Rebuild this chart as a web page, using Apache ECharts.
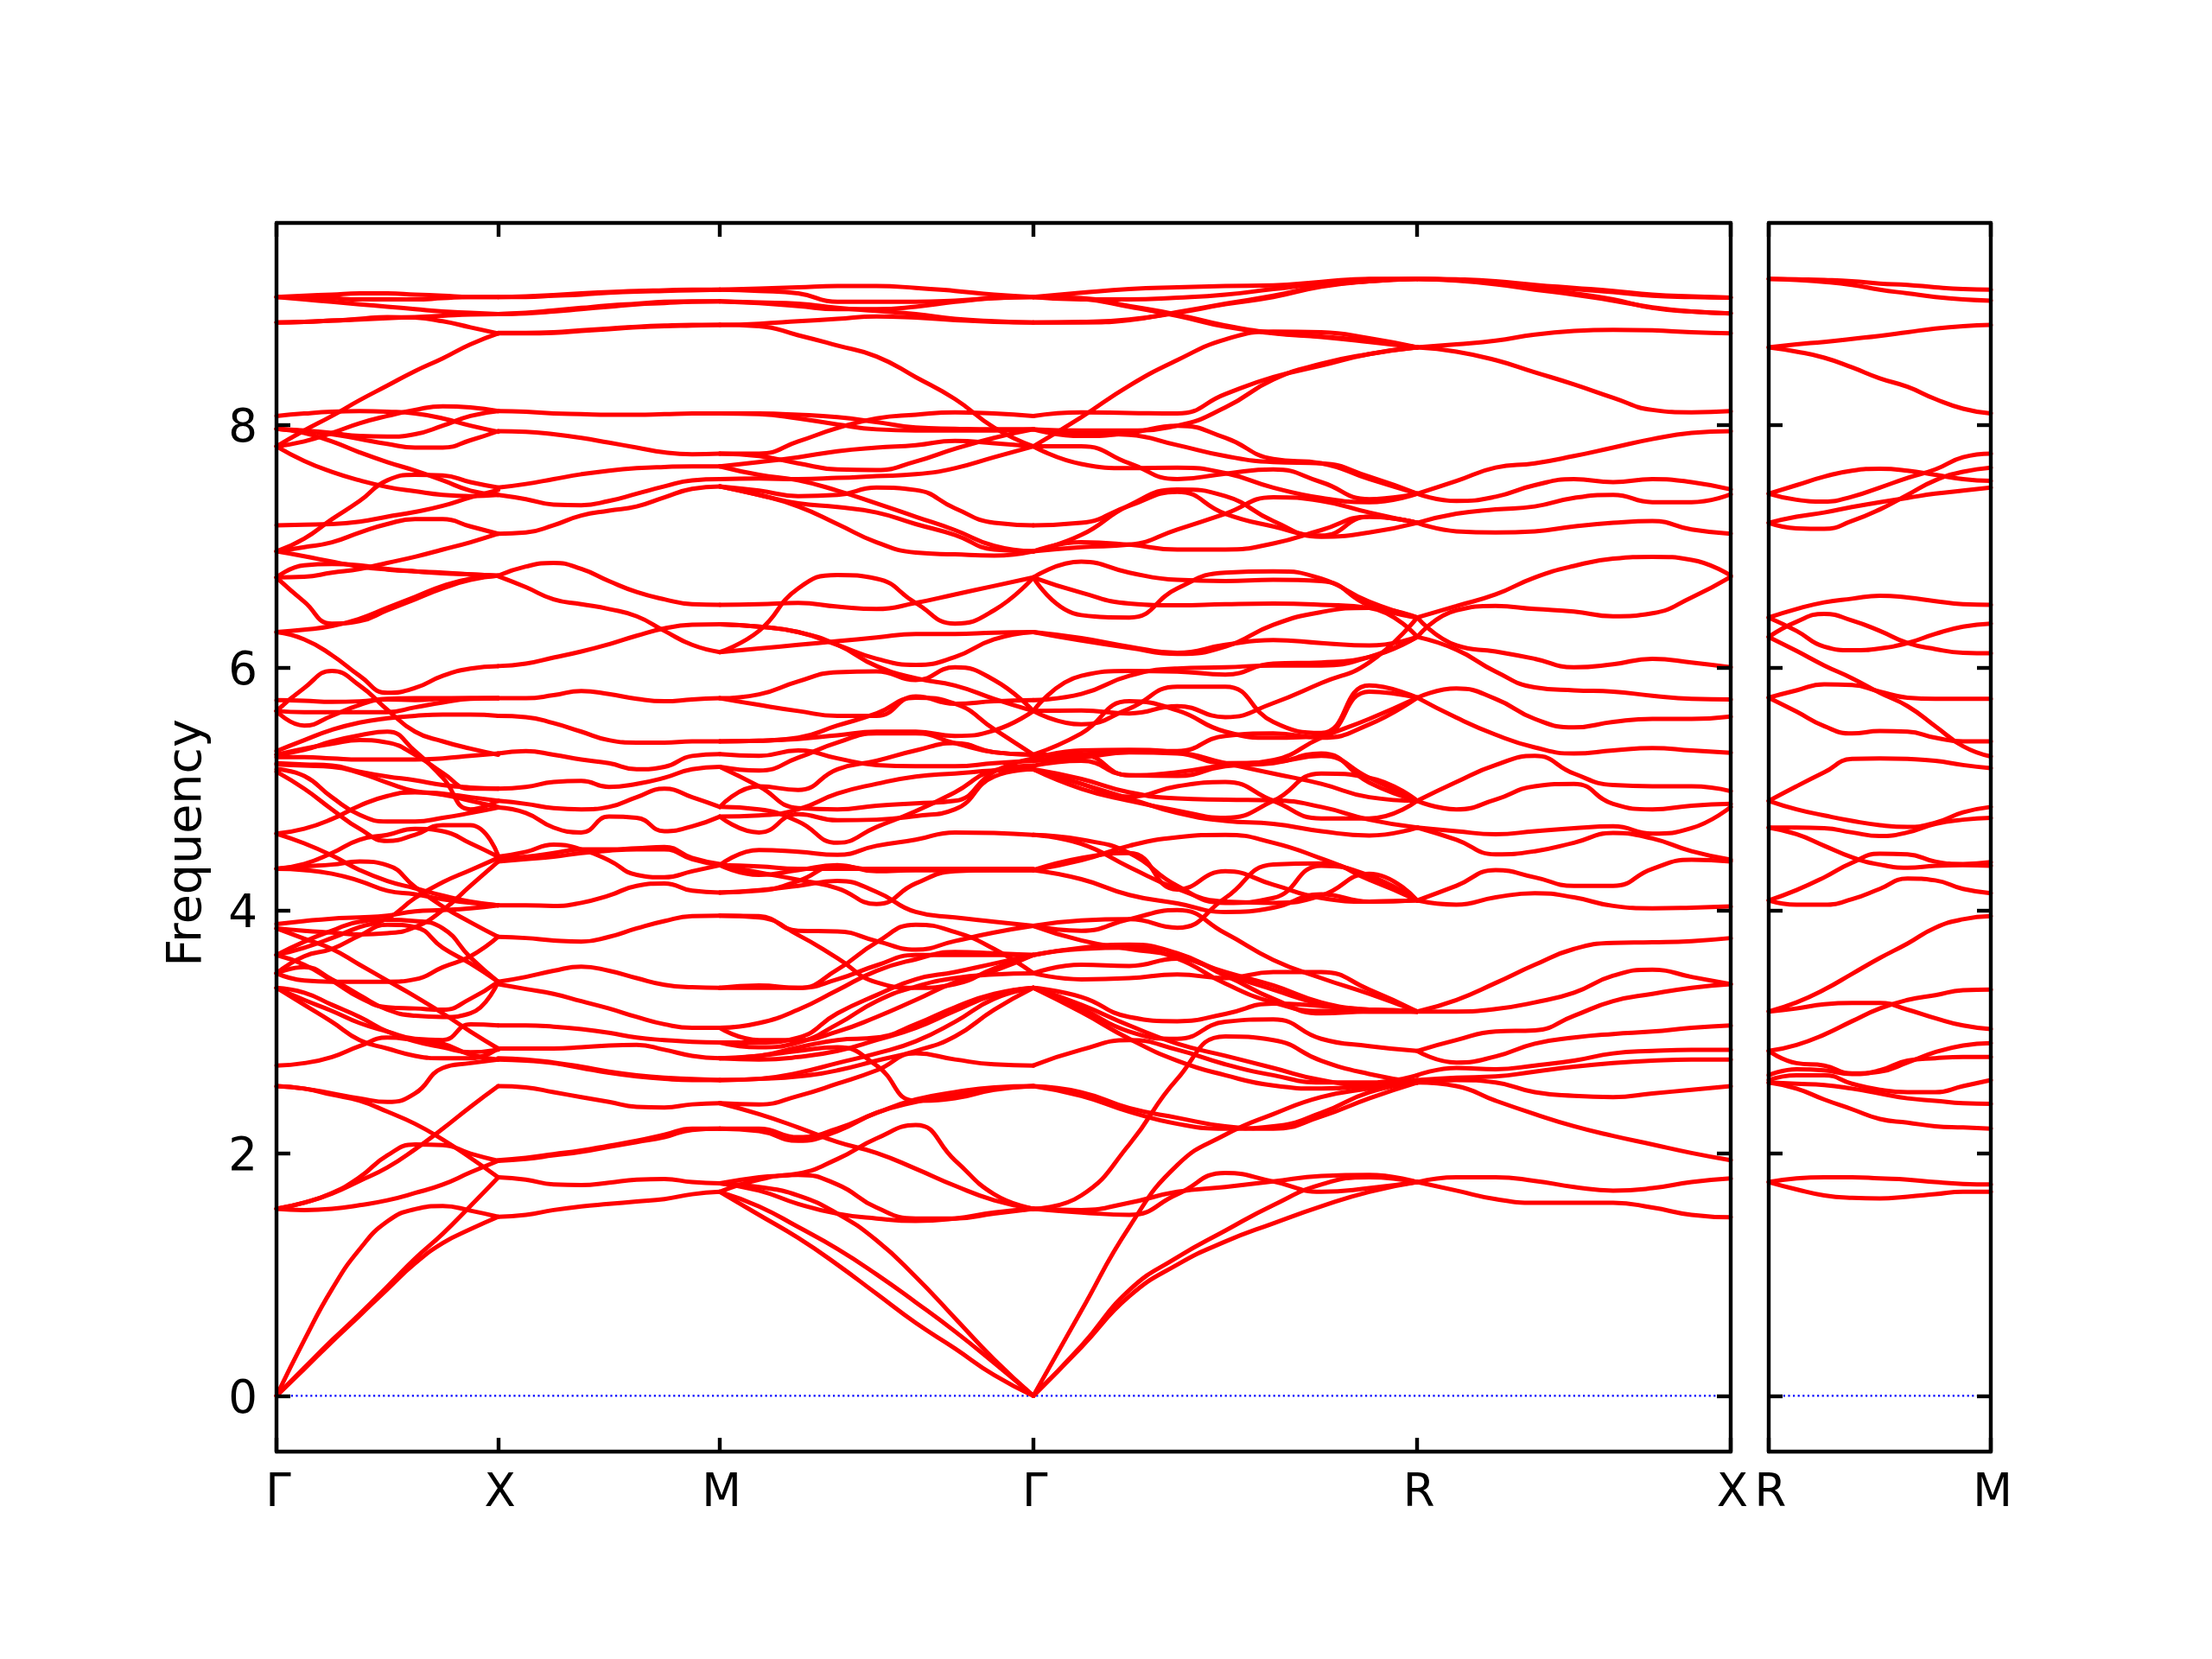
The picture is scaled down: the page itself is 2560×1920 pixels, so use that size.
<!DOCTYPE html>
<html><head><meta charset="utf-8">
<script src="https://cdn.jsdelivr.net/npm/echarts@6/dist/echarts.min.js"></script>
<style>html,body{margin:0;padding:0;background:#fff}#c{width:2560px;height:1920px}</style></head>
<body><div id="c"></div>
<script>
const tickNames=['Γ','X','M','Γ','R','X'];
const tickPos=[0,1,2,3.4142,5.1463,6.5605];
const rightNames=['R','M'];
const rightPos=[0,1];
const yTicks=[0,2,4,6,8];
const gammaX=[
[9.05,9.06,9.07,9.08,9.08,9.07,9.06,9.05,9.05],
[9.05,9.05,9.04,9.03,9.03,9.03,9.04,9.05,9.05],
[9.05,9.03,9.01,8.99,8.97,8.95,8.93,8.92,8.91],
[8.84,8.845,8.855,8.865,8.875,8.885,8.895,8.905,8.91],
[8.84,8.845,8.855,8.87,8.885,8.88,8.85,8.80,8.75],
[7.82,7.95,8.07,8.2,8.32,8.44,8.545,8.66,8.75],
[8.07,8.09,8.105,8.11,8.105,8.09,8.05,7.99,7.94],
[7.82,7.86,7.93,8.01,8.07,8.12,8.15,8.14,8.11],
[7.965,7.95,7.93,7.905,7.90,7.92,7.99,8.07,8.11],
[7.965,7.945,7.92,7.88,7.84,7.81,7.81,7.87,7.945],
[7.965,7.93,7.86,7.77,7.69,7.62,7.54,7.455,7.42],
[7.82,7.70,7.61,7.54,7.485,7.45,7.42,7.41,7.42],
[6.955,7.06,7.22,7.37,7.54,7.585,7.58,7.525,7.48],
[7.17,7.175,7.18,7.2,7.24,7.28,7.33,7.4,7.46],
[6.955,6.99,7.03,7.11,7.18,7.22,7.22,7.16,7.10],
[6.74,6.745,6.78,6.81,6.86,6.91,6.97,7.03,7.10],
[6.955,6.915,6.87,6.83,6.805,6.79,6.78,6.765,6.755],
[6.74,6.84,6.85,6.84,6.81,6.79,6.775,6.765,6.755],
[6.74,6.54,6.36,6.38,6.47,6.56,6.65,6.72,6.755],
[6.29,6.31,6.34,6.40,6.49,6.58,6.67,6.73,6.755],
[6.29,6.23,6.10,5.93,5.79,5.83,5.93,5.99,6.01],
[5.64,5.83,5.97,5.85,5.65,5.47,5.39,5.33,5.28],
[5.73,5.725,5.715,5.72,5.735,5.73,5.74,5.745,5.745],
[5.64,5.63,5.63,5.63,5.63,5.67,5.71,5.74,5.745],
[5.64,5.52,5.60,5.69,5.74,5.745,5.745,5.745,5.745],
[5.31,5.40,5.485,5.545,5.58,5.60,5.61,5.61,5.60],
[5.28,5.32,5.39,5.44,5.47,5.31,5.09,4.83,4.90],
[5.28,5.33,5.37,5.40,5.38,5.28,5.13,5.0,5.0],
[5.26,5.26,5.25,5.24,5.24,5.24,5.25,5.27,5.29],
[5.21,5.20,5.19,5.14,5.1,5.07,5.03,5.01,5.0],
[5.2,5.19,5.18,5.13,5.05,4.98,4.96,4.93,4.90],
[5.16,5.105,4.93,4.785,4.73,4.73,4.76,4.80,4.845],
[5.14,5.0,4.83,4.67,4.57,4.62,4.70,4.70,4.45],
[4.63,4.67,4.75,4.86,4.94,4.97,4.95,4.90,4.85],
[4.63,4.55,4.45,4.33,4.24,4.18,4.12,4.07,4.04],
[4.34,4.36,4.375,4.40,4.37,4.19,4.03,3.9,3.78],
[4.34,4.33,4.30,4.24,4.16,4.13,4.09,4.06,4.04],
[4.34,4.38,4.47,4.58,4.62,4.67,4.65,4.55,4.44],
[3.885,3.91,3.93,3.94,3.955,3.99,4.0,4.015,4.04],
[3.85,3.83,3.815,3.80,3.81,3.86,4.0,4.2,4.40],
[3.63,3.69,3.77,3.86,3.93,4.1,4.23,4.33,4.43],
[3.85,3.765,3.68,3.55,3.42,3.29,3.15,3.0,2.86],
[3.63,3.74,3.83,3.905,3.92,3.91,3.85,3.61,3.41],
[3.48,3.62,3.68,3.79,3.88,3.86,3.69,3.56,3.41],
[3.48,3.42,3.41,3.41,3.41,3.43,3.53,3.62,3.78],
[3.63,3.55,3.42,3.28,3.2,3.19,3.18,3.27,3.41],
[3.48,3.53,3.43,3.30,3.18,3.13,3.12,3.15,3.41],
[3.36,3.26,3.17,3.07,3.0,2.94,2.93,3.06,3.05],
[3.36,3.32,3.22,3.12,3.0,2.92,2.87,2.83,2.85],
[2.72,2.74,2.79,2.88,2.95,2.93,2.90,2.81,2.77],
[3.36,3.22,3.08,2.93,2.86,2.80,2.78,2.78,2.86],
[2.55,2.53,2.49,2.45,2.42,2.49,2.7,2.74,2.77],
[2.55,2.53,2.48,2.43,2.34,2.24,2.11,1.96,1.80],
[1.54,1.59,1.665,1.77,1.88,2.03,2.20,2.38,2.55],
[1.54,1.59,1.67,1.80,1.98,2.07,2.065,1.995,1.935],
[1.54,1.53,1.54,1.57,1.61,1.67,1.74,1.84,1.935],
[0,0.457,0.877,1.207,1.436,1.537,1.563,1.525,1.474],
[0,0.23,0.457,0.673,0.90,1.13,1.334,1.563,1.797],
[0,0.22,0.445,0.66,0.877,1.09,1.258,1.372,1.474]
];
const xM=[
[9.05,9.055,9.065,9.08,9.09,9.10,9.105,9.11,9.11],
[9.05,9.05,9.06,9.07,9.085,9.095,9.10,9.105,9.11],
[8.91,8.92,8.94,8.96,8.98,8.995,9.01,9.015,9.015],
[8.91,8.915,8.93,8.95,8.97,8.99,9.0,9.01,9.015],
[8.75,8.75,8.755,8.77,8.785,8.80,8.81,8.815,8.82],
[8.755,8.755,8.76,8.775,8.79,8.805,8.815,8.82,8.82],
[8.11,8.105,8.09,8.085,8.08,8.08,8.085,8.09,8.09],
[7.945,7.94,7.92,7.89,7.85,7.81,7.77,7.755,7.76],
[7.48,7.51,7.55,7.59,7.62,7.64,7.65,7.655,7.655],
[7.42,7.385,7.34,7.335,7.37,7.43,7.49,7.54,7.55],
[7.10,7.11,7.17,7.25,7.29,7.325,7.40,7.47,7.49],
[6.755,6.83,6.86,6.81,6.71,6.62,6.56,6.52,6.515],
[6.75,6.66,6.56,6.52,6.48,6.42,6.30,6.185,6.125],
[6.01,6.03,6.08,6.13,6.19,6.26,6.32,6.35,6.355],
[5.745,5.745,5.77,5.805,5.78,5.74,5.72,5.735,5.745],
[5.6,5.59,5.54,5.47,5.40,5.38,5.38,5.39,5.39],
[5.29,5.31,5.28,5.24,5.21,5.16,5.18,5.27,5.285],
[5.0,5.015,5.055,5.065,5.015,5.04,5.09,5.16,5.18],
[4.9,4.875,4.84,4.83,4.85,4.93,5.0,4.93,4.85],
[4.845,4.80,4.68,4.64,4.77,4.76,4.65,4.69,4.77],
[4.44,4.48,4.54,4.50,4.41,4.29,4.27,4.32,4.37],
[4.43,4.44,4.47,4.50,4.50,4.51,4.52,4.43,4.38],
[4.40,4.42,4.44,4.47,4.49,4.50,4.50,4.42,4.37],
[4.04,4.04,4.035,4.06,4.12,4.2,4.22,4.16,4.145],
[3.78,3.77,3.75,3.74,3.78,3.85,3.91,3.95,3.955],
[3.41,3.45,3.50,3.535,3.50,3.44,3.385,3.365,3.36],
[3.39,3.35,3.31,3.25,3.19,3.12,3.06,3.03,3.03],
[3.05,3.05,3.04,3.02,2.99,2.95,2.93,2.915,2.91],
[2.86,2.86,2.86,2.87,2.885,2.89,2.85,2.80,2.78],
[2.77,2.76,2.74,2.70,2.66,2.63,2.61,2.60,2.60],
[2.78,2.77,2.745,2.71,2.67,2.64,2.62,2.61,2.60],
[2.55,2.54,2.50,2.46,2.42,2.38,2.375,2.40,2.41],
[1.935,1.95,1.98,2.01,2.05,2.09,2.13,2.19,2.2],
[1.94,1.96,1.99,2.02,2.06,2.10,2.15,2.2,2.2],
[1.80,1.78,1.74,1.735,1.755,1.78,1.785,1.76,1.75],
[1.474,1.49,1.53,1.56,1.58,1.60,1.62,1.66,1.68]
];
const mGamma=[
[9.11,9.12,9.13,9.14,9.14,9.125,9.10,9.07,9.05],
[9.11,9.10,9.08,9.01,9.01,9.01,9.02,9.04,9.05],
[9.015,9.0,8.975,8.95,8.95,8.97,9.01,9.04,9.05],
[9.015,9.005,8.995,8.96,8.935,8.91,8.87,8.85,8.84],
[8.82,8.83,8.85,8.87,8.89,8.88,8.86,8.845,8.84],
[8.82,8.81,8.735,8.65,8.56,8.39,8.21,7.975,7.82],
[8.09,8.09,8.08,8.06,8.02,7.975,7.965,7.96,7.96],
[8.09,8.085,8.05,8.0,7.96,7.95,7.95,7.95,7.96],
[7.76,7.76,7.86,7.97,8.05,8.08,8.10,8.09,8.07],
[7.76,7.74,7.68,7.63,7.625,7.695,7.80,7.89,7.96],
[7.655,7.69,7.73,7.78,7.81,7.83,7.865,7.845,7.82],
[7.655,7.585,7.54,7.455,7.35,7.24,7.13,7.0,6.955],
[7.55,7.555,7.55,7.56,7.575,7.59,7.64,7.73,7.82],
[7.49,7.455,7.41,7.42,7.48,7.46,7.31,7.19,7.17],
[7.49,7.42,7.35,7.32,7.275,7.18,7.09,6.97,6.955],
[7.49,7.42,7.325,7.18,7.03,6.945,6.93,6.92,6.955],
[6.515,6.52,6.53,6.50,6.48,6.53,6.6,6.67,6.74],
[6.125,6.30,6.65,6.76,6.73,6.53,6.36,6.47,6.74],
[6.355,6.335,6.29,6.185,6.01,5.91,5.85,5.74,5.64],
[6.355,6.335,6.29,6.185,6.07,6.02,6.085,6.23,6.29],
[6.125,6.155,6.185,6.215,6.245,6.275,6.275,6.285,6.29],
[5.745,5.777,5.884,5.96,5.967,5.895,6.0,5.895,5.64],
[5.745,5.69,5.64,5.6,5.6,5.76,5.70,5.72,5.73],
[5.39,5.395,5.42,5.52,5.62,5.75,5.70,5.49,5.28],
[5.39,5.395,5.41,5.44,5.47,5.47,5.435,5.48,5.64],
[5.285,5.27,5.315,5.25,5.195,5.185,5.185,5.21,5.23],
[5.18,5.15,5.255,5.38,5.455,5.455,5.375,5.30,5.28],
[5.18,5.02,4.84,4.83,4.86,4.88,4.90,5.14,5.25],
[4.85,5.02,4.99,5.16,5.23,5.315,5.375,5.30,5.28],
[4.77,4.64,4.79,4.74,4.745,4.775,4.83,5.10,5.16],
[4.85,4.83,4.73,4.555,4.685,4.815,4.97,5.15,5.19],
[4.77,4.78,4.83,4.96,5.04,5.1,5.125,5.15,5.16],
[4.37,4.495,4.48,4.455,4.53,4.58,4.64,4.635,4.62],
[4.37,4.29,4.33,4.37,4.32,4.33,4.33,4.33,4.33],
[4.37,4.36,4.34,4.34,4.34,4.34,4.34,4.34,4.34],
[4.145,4.165,4.2,4.24,4.15,3.985,3.94,3.905,3.87],
[4.37,4.31,4.25,4.18,4.05,4.22,4.32,4.33,4.33],
[4.145,4.16,4.24,4.365,4.33,4.33,4.33,4.33,4.33],
[3.955,3.94,3.795,3.605,3.405,3.36,3.39,3.52,3.63],
[3.955,3.95,3.83,3.825,3.745,3.675,3.745,3.815,3.87],
[3.36,3.38,3.36,3.51,3.735,3.88,3.82,3.68,3.48],
[3.36,3.36,3.36,3.43,3.545,3.63,3.63,3.63,3.63],
[3.03,3.07,3.18,3.34,3.5,3.595,3.655,3.645,3.63],
[3.03,2.93,2.93,3.0,3.12,3.26,3.405,3.5,3.63],
[2.91,2.91,2.95,3.15,3.3,3.43,3.49,3.56,3.63],
[2.91,2.87,2.91,3.06,3.25,3.37,3.44,3.47,3.48],
[2.78,2.80,2.87,2.93,2.95,3.06,3.2,3.31,3.36],
[2.78,2.77,2.79,2.84,2.93,3.03,3.17,3.3,3.36],
[2.6,2.61,2.66,2.74,2.82,2.92,3.08,3.27,3.36],
[2.6,2.61,2.63,2.68,2.76,2.84,2.96,3.18,3.36],
[2.41,2.40,2.47,2.57,2.68,2.82,2.77,2.73,2.72],
[2.78,2.80,2.84,2.87,2.72,2.43,2.45,2.52,2.55],
[2.2,2.18,2.1,2.18,2.33,2.42,2.48,2.53,2.55],
[2.2,2.2,2.13,2.2,2.33,2.44,2.5,2.54,2.55],
[2.41,2.32,2.21,2.09,2.0,1.87,1.73,1.61,1.54],
[1.75,1.8,1.83,1.95,2.12,2.23,1.94,1.66,1.54],
[1.75,1.69,1.58,1.5,1.46,1.44,1.46,1.51,1.54],
[1.68,1.78,1.82,1.74,1.55,1.46,1.46,1.5,1.54],
[1.68,1.49,1.3,1.08,0.84,0.6,0.39,0.17,0],
[1.68,1.56,1.39,1.21,1.0,0.77,0.53,0.27,0],
[1.75,1.72,1.65,1.5,1.28,0.98,0.64,0.3,0]
];
const gammaR=[
[9.05,9.085,9.115,9.13,9.14,9.145,9.175,9.2,9.2],
[9.05,9.03,9.03,9.045,9.07,9.115,9.16,9.195,9.2],
[8.84,8.84,8.86,8.925,8.995,9.06,9.14,9.18,9.2],
[8.84,8.845,8.865,8.92,8.99,9.05,9.135,9.18,9.2],
[9.05,9.035,8.97,8.895,8.805,8.75,8.72,8.68,8.635],
[9.05,9.04,8.975,8.905,8.815,8.755,8.725,8.69,8.635],
[7.82,8.06,8.32,8.53,8.70,8.765,8.76,8.71,8.635],
[8.07,8.1,8.095,8.09,8.25,8.39,8.485,8.58,8.635],
[7.96,7.95,7.95,7.99,8.14,8.37,8.5,8.58,8.635],
[7.96,7.905,7.93,7.99,7.89,7.715,7.68,7.55,7.43],
[7.96,7.93,7.915,7.83,7.74,7.69,7.68,7.57,7.43],
[7.82,7.82,7.68,7.55,7.595,7.63,7.525,7.385,7.43],
[7.82,7.675,7.64,7.645,7.6,7.48,7.395,7.36,7.43],
[6.955,7.09,7.335,7.465,7.41,7.205,7.075,7.11,7.19],
[7.17,7.19,7.33,7.445,7.265,7.16,7.085,7.24,7.19],
[6.955,7.03,7.01,6.97,6.97,7.02,7.13,7.24,7.19],
[6.955,6.99,7.01,7.135,7.265,7.4,7.37,7.275,7.19],
[6.74,6.87,6.78,6.72,6.71,6.72,6.71,6.51,6.41],
[6.74,6.615,6.525,6.51,6.52,6.525,6.515,6.49,6.25],
[6.74,6.43,6.41,6.65,6.78,6.79,6.73,6.54,6.41],
[6.29,6.24,6.17,6.12,6.185,6.225,6.2,6.18,6.25],
[6.29,6.22,6.16,6.11,6.17,6.35,6.455,6.49,6.41],
[5.64,5.93,5.97,5.965,5.94,6.03,6.04,6.085,6.25],
[5.73,5.78,5.93,5.99,6.0,6.015,6.015,6.085,6.25],
[5.64,5.53,5.66,5.84,5.84,5.55,5.46,5.85,5.75],
[5.64,5.645,5.62,5.68,5.59,5.705,5.87,6.04,6.41],
[5.28,5.455,5.72,5.645,5.47,5.42,5.435,5.8,5.75],
[5.28,5.28,5.11,5.135,5.195,5.235,5.42,5.575,5.75],
[5.23,5.28,5.31,5.31,5.435,5.455,5.42,5.53,5.75],
[5.23,5.255,5.30,5.29,5.21,5.22,5.27,5.09,4.9],
[5.25,5.315,5.32,5.3,5.21,5.125,5.04,4.93,4.9],
[5.19,5.23,5.11,5.105,5.185,5.21,5.29,5.05,4.9],
[5.16,5.04,4.935,5.02,5.055,4.9,4.755,4.755,4.9],
[5.16,5.08,4.97,4.92,4.91,4.905,4.85,4.745,4.68],
[5.16,5.0,4.9,4.82,4.76,4.9,5.125,5.09,4.9],
[5.16,5.04,4.92,4.8,4.735,4.71,4.65,4.615,4.68],
[4.62,4.545,4.355,4.175,4.07,4.06,4.12,4.3,4.08],
[4.62,4.58,4.47,4.2,4.06,4.1,4.365,4.285,4.08],
[4.33,4.41,4.53,4.6,4.62,4.555,4.425,4.27,4.08],
[4.33,4.255,4.125,4.055,3.985,4.02,4.13,4.07,4.08],
[4.33,4.43,4.47,4.17,4.32,4.21,4.1,4.07,4.08],
[3.87,3.83,3.925,4.0,3.81,3.59,3.44,3.31,3.165],
[3.87,3.915,3.925,3.855,4.1,4.375,4.385,4.25,4.08],
[3.87,3.75,3.68,3.62,3.49,3.38,3.24,3.18,3.165],
[3.63,3.69,3.715,3.645,3.475,3.345,3.225,3.165,3.165],
[3.63,3.68,3.69,3.6,3.395,3.24,3.17,3.18,3.165],
[3.48,3.55,3.54,3.6,3.46,3.27,3.15,3.165,3.165],
[3.48,3.43,3.44,3.47,3.44,3.49,3.49,3.345,3.165],
[3.36,3.285,3.12,3.085,3.145,3.23,3.21,3.18,3.165],
[3.36,3.19,3.0,2.94,3.08,3.1,2.94,2.88,2.84],
[3.36,3.16,2.94,2.76,2.64,2.555,2.53,2.555,2.6],
[3.36,3.22,3.05,2.9,2.8,2.7,2.6,2.56,2.6],
[2.72,2.85,2.93,2.85,2.73,2.64,2.58,2.58,2.64],
[2.55,2.47,2.34,2.24,2.2,2.22,2.33,2.5,2.58],
[2.55,2.5,2.37,2.29,2.22,2.2,2.3,2.45,2.58],
[1.54,1.65,2.07,2.61,2.96,2.93,2.76,2.65,2.58],
[1.54,1.51,1.49,1.66,1.835,1.765,1.68,1.71,1.76],
[1.54,1.53,1.59,1.68,1.72,1.765,1.81,1.82,1.76],
[0,0.70,1.39,1.9,2.15,2.32,2.46,2.53,2.58],
[0,0.41,0.87,1.14,1.36,1.57,1.74,1.8,1.76],
[0,0.4,0.82,1.08,1.27,1.42,1.56,1.68,1.76]
];
const rX=[
[9.2,9.195,9.18,9.15,9.125,9.10,9.07,9.055,9.045],
[9.2,9.19,9.17,9.14,9.115,9.09,9.06,9.05,9.045],
[9.2,9.19,9.16,9.12,9.08,9.03,8.96,8.93,8.915],
[9.2,9.185,9.155,9.11,9.07,9.02,8.965,8.93,8.915],
[8.635,8.66,8.69,8.74,8.77,8.78,8.775,8.76,8.75],
[8.635,8.6,8.53,8.43,8.33,8.22,8.12,8.1,8.11],
[7.43,7.535,7.645,7.68,7.74,7.81,7.88,7.93,7.945],
[7.43,7.37,7.405,7.5,7.55,7.525,7.55,7.525,7.465],
[7.19,7.265,7.3,7.325,7.395,7.42,7.36,7.36,7.425],
[7.19,7.12,7.11,7.12,7.16,7.19,7.205,7.135,7.1],
[6.41,6.505,6.6,6.74,6.835,6.895,6.91,6.885,6.755],
[6.25,6.47,6.505,6.48,6.46,6.42,6.445,6.575,6.745],
[6.25,6.145,5.965,5.835,5.81,5.8,5.765,5.74,5.735],
[6.41,6.18,6.13,6.07,6.0,6.025,6.07,6.04,6.0],
[5.75,5.825,5.74,5.575,5.505,5.55,5.575,5.575,5.595],
[5.75,5.585,5.445,5.34,5.29,5.315,5.335,5.315,5.295],
[4.9,5.055,5.195,5.27,5.125,5.03,5.02,5.02,4.98],
[4.9,4.83,4.91,5.02,5.04,4.875,4.83,4.86,4.875],
[4.68,4.65,4.625,4.65,4.675,4.69,4.63,4.675,4.85],
[4.68,4.58,4.46,4.485,4.555,4.635,4.59,4.485,4.415],
[4.08,4.2,4.33,4.27,4.2,4.2,4.34,4.415,4.4],
[4.08,4.045,4.105,4.14,4.105,4.035,4.015,4.02,4.03],
[3.165,3.26,3.4,3.55,3.68,3.73,3.735,3.745,3.77],
[3.165,3.165,3.185,3.24,3.32,3.46,3.51,3.45,3.39],
[2.84,2.93,3.0,3.01,3.13,3.25,3.31,3.36,3.39],
[2.84,2.745,2.795,2.9,2.95,2.98,3.0,3.03,3.05],
[2.64,2.70,2.69,2.72,2.76,2.82,2.84,2.85,2.85],
[2.6,2.62,2.63,2.67,2.71,2.74,2.76,2.77,2.77],
[2.58,2.6,2.58,2.5,2.47,2.46,2.49,2.52,2.55],
[2.58,2.55,2.43,2.32,2.22,2.14,2.07,2.0,1.94],
[1.76,1.8,1.8,1.77,1.72,1.69,1.71,1.76,1.79],
[1.76,1.69,1.62,1.59,1.59,1.59,1.55,1.49,1.47]
];
const rM=[
[9.2,9.195,9.19,9.18,9.16,9.15,9.13,9.115,9.11],
[9.2,9.19,9.175,9.15,9.11,9.08,9.05,9.03,9.02],
[8.635,8.66,8.68,8.705,8.73,8.76,8.79,8.81,8.82],
[8.635,8.6,8.55,8.47,8.38,8.31,8.21,8.13,8.09],
[7.43,7.5,7.57,7.62,7.635,7.62,7.585,7.55,7.535],
[7.43,7.38,7.365,7.405,7.48,7.56,7.63,7.73,7.76],
[7.19,7.24,7.275,7.32,7.36,7.395,7.43,7.455,7.48],
[7.19,7.145,7.14,7.205,7.3,7.42,7.54,7.61,7.645],
[6.41,6.48,6.535,6.565,6.59,6.575,6.545,6.52,6.515],
[6.41,6.3,6.17,6.14,6.155,6.2,6.275,6.335,6.36],
[6.25,6.375,6.44,6.385,6.3,6.2,6.15,6.12,6.115],
[6.25,6.135,6.015,5.91,5.79,5.68,5.515,5.35,5.265],
[5.75,5.81,5.86,5.855,5.8,5.75,5.74,5.74,5.74],
[5.75,5.635,5.515,5.455,5.475,5.47,5.42,5.39,5.39],
[4.9,5.02,5.135,5.245,5.25,5.245,5.23,5.195,5.17],
[4.9,4.83,4.78,4.735,4.70,4.685,4.72,4.805,4.85],
[4.68,4.68,4.675,4.64,4.61,4.64,4.71,4.745,4.76],
[4.68,4.625,4.53,4.435,4.375,4.35,4.365,4.37,4.365],
[4.08,4.165,4.27,4.39,4.465,4.46,4.4,4.38,4.395],
[4.08,4.045,4.045,4.09,4.175,4.26,4.245,4.175,4.14],
[3.165,3.24,3.345,3.475,3.605,3.725,3.855,3.925,3.95],
[3.165,3.19,3.225,3.235,3.235,3.18,3.11,3.05,3.02],
[2.84,2.89,2.975,3.085,3.19,3.26,3.3,3.34,3.345],
[2.84,2.74,2.72,2.655,2.67,2.745,2.83,2.885,2.905],
[2.64,2.69,2.68,2.65,2.68,2.76,2.78,2.79,2.79],
[2.6,2.64,2.64,2.57,2.52,2.5,2.5,2.55,2.6],
[2.58,2.57,2.56,2.53,2.49,2.45,2.43,2.41,2.405],
[2.58,2.53,2.44,2.36,2.28,2.25,2.22,2.21,2.2],
[1.76,1.79,1.8,1.8,1.79,1.78,1.76,1.745,1.74],
[1.76,1.7,1.65,1.63,1.625,1.64,1.66,1.68,1.68]
];
const yMin=-0.46,yMax=9.66;
const font='"DejaVu Sans"';
const lw=4.4,curveW=5,fs=53;
const chart=echarts.init(document.getElementById('c'),null,{renderer:'canvas',width:2560,height:1920});
function along(vals,x0,x1){return vals.map((v,i)=>[x0+(x1-x0)*i/(vals.length-1),v]);}
const series=[];
function addCurves(list,x0,x1,xi,yi){
  list.forEach(vals=>series.push({type:'line',xAxisIndex:xi,yAxisIndex:yi,data:along(vals,x0,x1),smooth:0.5,showSymbol:false,silent:true,animation:false,z:3,lineStyle:{color:'#ff0000',width:curveW,cap:'round',join:'round'}}));
}
addCurves(gammaX,tickPos[0],tickPos[1],0,0);
addCurves(xM,tickPos[1],tickPos[2],0,0);
addCurves(mGamma,tickPos[2],tickPos[3],0,0);
addCurves(gammaR,tickPos[3],tickPos[4],0,0);
addCurves(rX,tickPos[4],tickPos[5],0,0);
addCurves(rM,rightPos[0],rightPos[1],2,2);
[[tickPos[5],0,0],[rightPos[1],2,2]].forEach(([xm,xi,yi])=>series.push({type:'line',xAxisIndex:xi,yAxisIndex:yi,data:[[0,0],[xm,0]],showSymbol:false,silent:true,animation:false,z:2,lineStyle:{color:'#0000ff',width:2.2,type:[2.2,3.4]}}));
const axLine={show:true,lineStyle:{color:'#000',width:lw}};
function xAx(grid,pos,max,ticks,names,label){
  return {type:'value',gridIndex:grid,position:pos,min:0,max:max,z:10,splitLine:{show:false},axisLine:{...axLine,onZero:false},
    axisTick:{show:true,inside:true,length:16,customValues:ticks,lineStyle:{color:'#000',width:lw}},
    axisLabel:label?{show:true,customValues:ticks,margin:23,fontSize:fs,fontFamily:font,color:'#000',hideOverlap:false,showMinLabel:true,showMaxLabel:true,padding:[0,0,0,4],
      formatter:v=>{let k=0,b=1e9;ticks.forEach((t,i)=>{if(Math.abs(t-v)<b){b=Math.abs(t-v);k=i;}});return names[k];}}:{show:false}};
}
function yAx(grid,pos,label,name){
  return {type:'value',gridIndex:grid,position:pos,min:yMin,max:yMax,z:10,splitLine:{show:false},axisLine:{...axLine,onZero:false},
    axisTick:{show:true,inside:true,length:16,customValues:yTicks,lineStyle:{color:'#000',width:lw}},
    axisLabel:label?{show:true,customValues:yTicks,margin:22,fontSize:fs,fontFamily:font,color:'#000',showMinLabel:true,showMaxLabel:true,
      formatter:v=>'{n|'+Math.round(v)+'}',rich:{n:{fontSize:fs,fontFamily:font,color:'#000',padding:[12,0,0,0]}}}:{show:false},
    name:name||'',nameLocation:'middle',nameGap:74,nameTextStyle:{fontSize:55.5,fontFamily:font,color:'#000',padding:[0,13,0,0]}};
}
chart.setOption({
  animation:false,backgroundColor:'#fff',
  grid:[{left:320,top:258,width:1683,height:1422,containLabel:false},{left:2047,top:258,width:257,height:1422,containLabel:false}],
  xAxis:[xAx(0,'bottom',tickPos[5],tickPos,tickNames,true),xAx(0,'top',tickPos[5],tickPos,tickNames,false),
         xAx(1,'bottom',1,rightPos,rightNames,true),xAx(1,'top',1,rightPos,rightNames,false)],
  yAxis:[yAx(0,'left',true,'Frequency'),yAx(0,'right',false),yAx(1,'left',false),yAx(1,'right',false)],
  series:series
});
</script></body></html>
